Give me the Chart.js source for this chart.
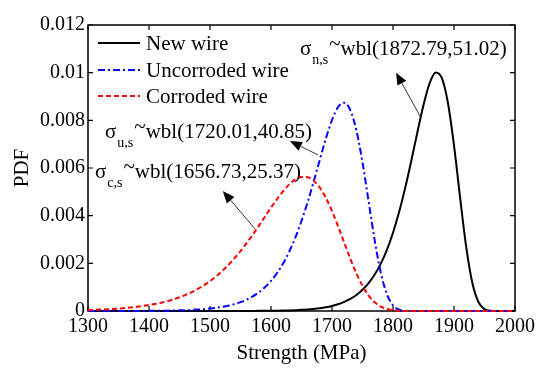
<!DOCTYPE html>
<html>
<head>
<meta charset="utf-8">
<script src="https://cdn.jsdelivr.net/npm/chart.js@4.4.1/dist/chart.umd.min.js"></script>
<style>
html,body{margin:0;padding:0;background:#fff;}
#wrap{width:550px;height:371px;}
</style>
</head>
<body>
<div id="wrap"><canvas id="c" width="550" height="371"></canvas></div>
<script>
// ---- data ----
const strength = [1300,1310,1320,1330,1340,1350,1360,1370,1380,1390,1400,1410,1420,1430,1440,1450,1460,1470,1480,1490,1500,1510,1520,1530,1540,1550,1560,1570,1580,1590,1600,1610,1620,1630,1640,1650,1660,1670,1680,1690,1700,1710,1720,1730,1740,1750,1760,1770,1780,1790,1800,1810,1820,1830,1840,1850,1860,1870,1880,1890,1900,1910,1920,1930,1940,1950,1960,1970,1980,1990,2000];
const newWire = [0,0,0,0,0,0,0,0,0,0,0,0,0,0,0,0,0,0,0,0,0,0,0,0,0,
 0.000002,0.000003,0.000004,0.0000055,0.0000077,0.0000104,0.0000142,0.0000193,0.000026,0.0000356,0.0000483,0.0000653,0.000088,0.0001185,0.0001592,
 0.0002134,0.0002855,0.000381,0.0005069,0.0006721,0.0008883,0.0011687,0.0015298,0.0019901,0.0025694,0.0032856,0.0041515,0.005166,0.0063039,0.007502,
 0.0086444,0.009556,0.0100086,0.009781,0.008737,0.00695,0.00476,0.0026871,0.0011823,0.0003773,0.0000796,0.0000099,0,0,0,0];
const uncorrodedWire = [0.0000003,0.0000004,0.0000006,0.0000008,0.0000011,0.0000015,0.000002,0.0000028,0.0000037,0.0000049,0.0000065,0.0000086,0.0000114,0.0000151,0.00002,
 0.0000263,0.0000346,0.0000454,0.0000594,0.0000776,0.0001012,0.0001318,0.0001711,0.0002218,0.0002869,0.0003701,0.0004761,0.0006108,0.0007811,0.0009952,
 0.0012627,0.0015943,0.0020013,0.002495,0.0030849,0.0037753,0.004563,0.0054311,0.0063425,0.0072349,0.0080142,0.0085604,0.008737,0.0084272,0.0075749,
 0.0062358,0.0046014,0.002963,0.0016107,0.0007094,0.0002406,0.0000589,0.0000097,0,0,0,0,0,0,0,0,0,0,0,0,0,0,0,0,0,0];
const corrodedWire = [0.0000415,0.00005,0.0000601,0.0000722,0.0000866,0.0001037,0.000124,0.000148,0.0001764,0.00021,0.0002494,0.0002959,0.0003503,0.0004141,0.0004884,
 0.000575,0.0006755,0.0007917,0.0009254,0.001079,0.0012541,0.001453,0.0016773,0.0019282,0.0022067,0.0025125,0.0028442,0.0031986,0.0035708,0.0039528,
 0.0043339,0.0047,0.0050335,0.0053144,0.0055204,0.0056273,0.0056152,0.0054676,0.005176,0.0047462,0.0041943,0.0035543,0.0028691,0.0021935,0.0015745,
 0.0010518,0.0006474,0.0003631,0.0001829,0.0000816,0.0000317,0.0000105,0.000003,0,0,0,0,0,0,0,0,0,0,0,0,0,0,0,0,0,0];
const seriesNames = ['New wire','Uncorroded wire','Corroded wire'];
const xTickLabels = ['1300','1400','1500','1600','1700','1800','1900','2000'];
const yTickLabels = ['0','0.002','0.004','0.006','0.008','0.01','0.012'];
const annotSubs = ['n,s','u,s','c,s'];
const annotTexts = ['wbl(1872.79,51.02)','wbl(1720.01,40.85)','wbl(1656.73,25.37)'];

const FONT = "'Liberation Serif','Times New Roman',serif";
const toPts = ys => strength.map((x,i)=>({x:x,y:ys[i]}));

const styles = [
  {color:'#000000', dash:[]},
  {color:'#0000ff', dash:[7,3,2,3]},
  {color:'#ff0000', dash:[5,3]}
];

const overlay = {
  id:'overlay',
  beforeDatasetsDraw(chart){
    const {ctx, chartArea:a, scales:{x,y}} = chart;
    ctx.save();
    ctx.strokeStyle='#000'; ctx.lineWidth=1.5;
    ctx.strokeRect(a.left, a.top, a.right-a.left, a.bottom-a.top);
    ctx.lineWidth=1.2;
    ctx.beginPath();
    xTickLabels.forEach(t=>{const px=x.getPixelForValue(+t);
      ctx.moveTo(px,a.bottom); ctx.lineTo(px,a.bottom-5);
      ctx.moveTo(px,a.top); ctx.lineTo(px,a.top+5);});
    yTickLabels.forEach(t=>{const py=y.getPixelForValue(+t);
      ctx.moveTo(a.left,py); ctx.lineTo(a.left+5,py);
      ctx.moveTo(a.right,py); ctx.lineTo(a.right-5,py);});
    ctx.stroke();
    ctx.restore();
  },
  afterDatasetsDraw(chart){
    const {ctx, chartArea:a, scales:{x,y}} = chart;
    ctx.save();
    // legend
    const rows=[43,70,96];
    seriesNames.forEach((n,i)=>{
      ctx.strokeStyle=styles[i].color; ctx.lineWidth=2; ctx.setLineDash(styles[i].dash);
      ctx.beginPath(); ctx.moveTo(a.left+10,rows[i]); ctx.lineTo(a.left+52,rows[i]); ctx.stroke();
      ctx.setLineDash([]);
      ctx.fillStyle='#000'; ctx.font='21px '+FONT; ctx.textBaseline='middle'; ctx.textAlign='left';
      ctx.fillText(n, a.left+58, rows[i]+1);
    });
    // annotations (anchor positions in data units)
    const anchors=[[1647.5,0.01074],[1327.9,0.00726],[1311.5,0.00558]];
    ctx.textBaseline='alphabetic';
    anchors.forEach((p,i)=>{
      let px=x.getPixelForValue(p[0]), py=y.getPixelForValue(p[1]);
      ctx.font='21px '+FONT; ctx.fillText('\u03c3',px,py);
      px+=ctx.measureText('\u03c3').width+1;
      ctx.font='14px '+FONT; ctx.fillText(annotSubs[i],px,py+9);
      px+=ctx.measureText(annotSubs[i]).width+1;
      ctx.font='21px '+FONT; ctx.fillText('~',px,py-5);
      px+=ctx.measureText('~').width;
      ctx.fillText(annotTexts[i],px,py);
    });
    // arrows: tail -> head in data units
    const arrows=[[[1846,0.0081],[1805,0.01000]],[[1677,0.00655],[1631,0.00713]],[[1574,0.00344],[1521,0.00503]]];
    arrows.forEach(ar=>{
      const x1=x.getPixelForValue(ar[0][0]), y1=y.getPixelForValue(ar[0][1]);
      const x2=x.getPixelForValue(ar[1][0]), y2=y.getPixelForValue(ar[1][1]);
      const ang=Math.atan2(y2-y1,x2-x1), L=12, W=5;
      const bx=x2-L*Math.cos(ang), by=y2-L*Math.sin(ang);
      ctx.strokeStyle='#333'; ctx.lineWidth=1;
      ctx.beginPath(); ctx.moveTo(x1,y1); ctx.lineTo(bx,by); ctx.stroke();
      ctx.fillStyle='#000';
      ctx.beginPath(); ctx.moveTo(x2,y2);
      ctx.lineTo(bx+W*Math.sin(ang), by-W*Math.cos(ang));
      ctx.lineTo(bx-W*Math.sin(ang), by+W*Math.cos(ang));
      ctx.closePath(); ctx.fill();
    });
    ctx.restore();
  }
};

new Chart(document.getElementById('c'), {
  type:'line',
  data:{datasets:[
    {label:seriesNames[0], data:toPts(newWire), borderColor:styles[0].color, borderWidth:2, borderDash:styles[0].dash, order:3},
    {label:seriesNames[1], data:toPts(uncorrodedWire), borderColor:styles[1].color, borderWidth:2, borderDash:styles[1].dash, order:2},
    {label:seriesNames[2], data:toPts(corrodedWire), borderColor:styles[2].color, borderWidth:2, borderDash:styles[2].dash, order:1}
  ].map(d=>Object.assign(d,{pointRadius:0, fill:false, cubicInterpolationMode:'monotone', clip:4}))},
  options:{
    responsive:false, animation:false, devicePixelRatio:1,
    layout:{padding:{top:25,right:35,left:0,bottom:0}},
    plugins:{legend:{display:false}, tooltip:{enabled:false}},
    scales:{
      x:{type:'linear', min:1300, max:2000,
        afterBuildTicks:s=>{s.ticks=xTickLabels.map(v=>({value:+v}));},
        ticks:{color:'#000', font:{family:FONT,size:20}, padding:4, maxRotation:0, callback:(v,i)=>xTickLabels[i]},
        grid:{display:false, drawTicks:false}, border:{display:false},
        title:{display:true, text:'Strength (MPa)', color:'#000', font:{family:FONT,size:21}, padding:{top:0,bottom:5}},
        afterFit:s=>{s.height=60;}},
      y:{type:'linear', min:0, max:0.012,
        afterBuildTicks:s=>{s.ticks=yTickLabels.map(v=>({value:+v}));},
        ticks:{color:'#000', font:{family:FONT,size:20}, padding:3, callback:(v,i)=>yTickLabels[i]},
        grid:{display:false, drawTicks:false}, border:{display:false},
        title:{display:true, text:'PDF', color:'#000', font:{family:FONT,size:21}, padding:{top:10,bottom:0}},
        afterFit:s=>{s.width=88;}}
    }
  },
  plugins:[overlay]
});
</script>
</body>
</html>
